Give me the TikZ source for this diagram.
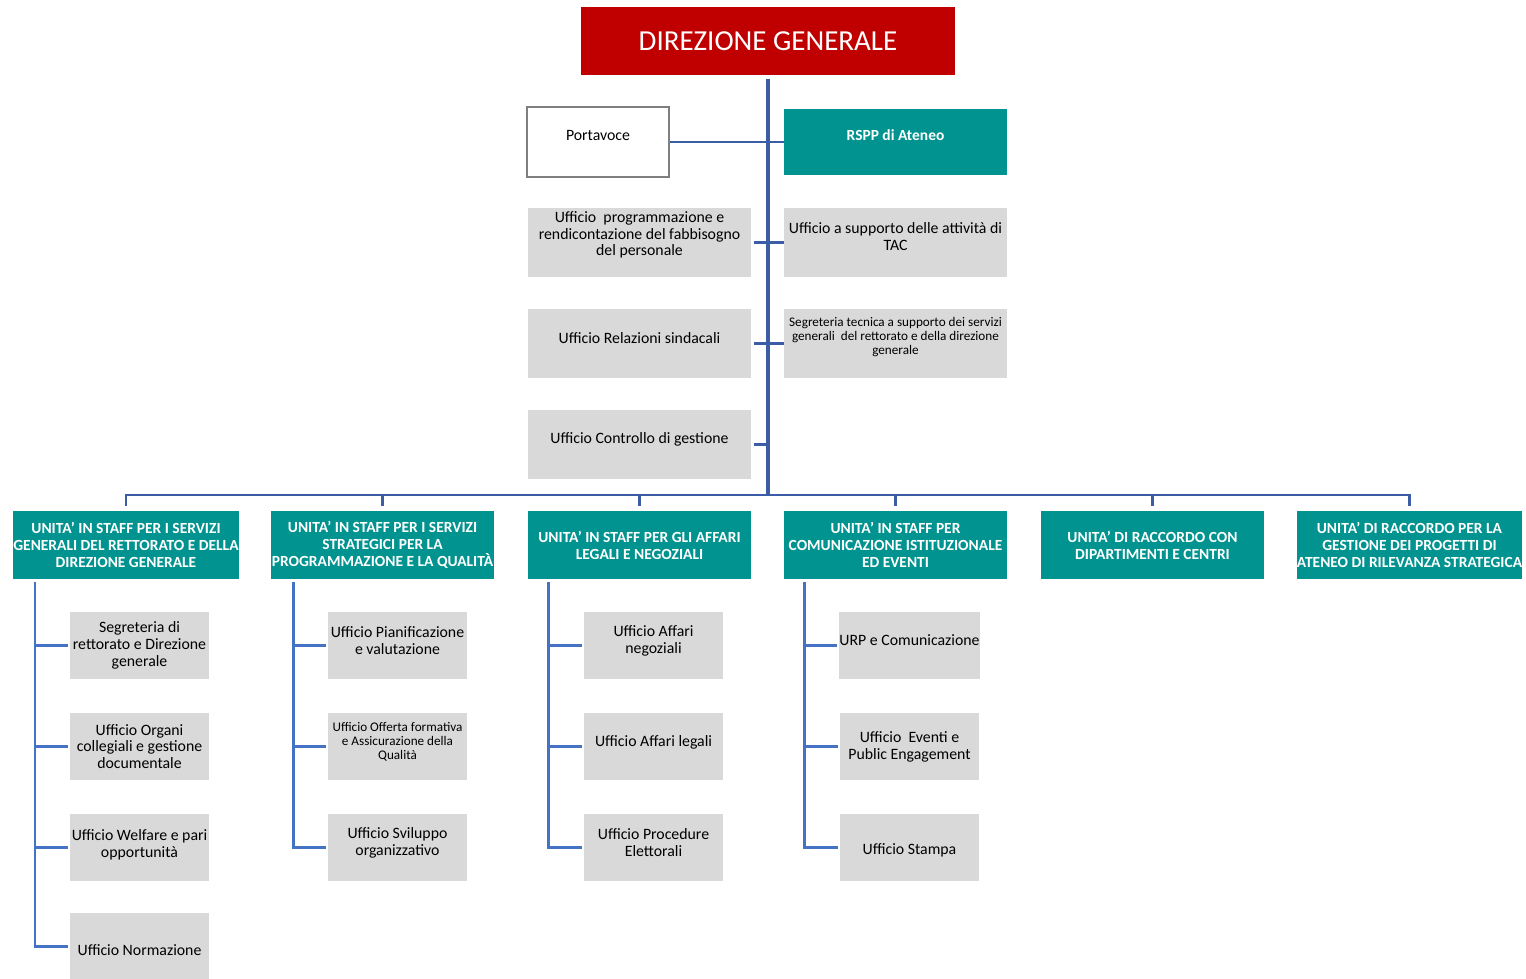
\documentclass[tikz,border=0pt]{standalone}
\usepackage{fontspec}
\setmainfont{Carlito}
\usetikzlibrary{positioning}

\definecolor{dgred}{HTML}{C00000}
\definecolor{unitteal}{HTML}{00938F}
\definecolor{officegray}{HTML}{D9D9D9}
\definecolor{framegray}{HTML}{7F7F7F}
\definecolor{trunkblue}{HTML}{3A5DA6}
\definecolor{linkblue}{HTML}{4472C4}

\begin{document}
\begin{tikzpicture}
		[x=0.02cm, y=-0.02cm,
		 head/.style={fill=dgred, text=white, minimum width=7.48cm, minimum height=1.36cm, inner sep=0pt, font=\fontsize{16.5}{19}\selectfont},
		 unit/.style={fill=unitteal, text=white, align=center, minimum width=4.48cm, minimum height=1.36cm, inner sep=0pt, font=\bfseries\fontsize{8.8}{9.6}\selectfont},
		 office/.style={fill=officegray, align=center, minimum width=4.46cm, minimum height=1.38cm, inner sep=0pt, font=\fontsize{9}{9.6}\selectfont},
		 suboffice/.style={fill=officegray, align=center, minimum width=2.78cm, minimum height=1.36cm, inner sep=0pt, font=\fontsize{9}{9.6}\selectfont},
		 smalltext/.style={font=\fontsize{7.5}{7.9}\selectfont},
		 lifted/.style={text depth=#1},
		 trunk/.style={draw=trunkblue, line width=2.3pt},
		 bus/.style={draw=trunkblue, line width=1.6pt},
		 stub/.style={draw=trunkblue, line width=1.4pt},
		 link/.style={draw=linkblue, line width=1.6pt}]
		\useasboundingbox (0,0) rectangle (1526,979);
		% vertice
		\node[head] (dg) at (768,41) {DIREZIONE GENERALE};
		\node[draw=framegray, line width=1.2pt, minimum width=2.84cm, minimum height=1.4cm, inner sep=0pt, font=\fontsize{9}{9.6}\selectfont, lifted=8pt] (portavoce) at (598,142) {Portavoce};
		\node[unit, minimum width=4.46cm, minimum height=1.32cm, lifted=8pt] (rspp) at (895.5,142) {RSPP di Ateneo};
		\node[office, lifted=10.2pt] (fabb) at (639.5,242.5) {Ufficio\ \ programmazione e\\rendicontazione del fabbisogno\\del personale};
		\node[office, lifted=6.8pt] (tac) at (895.5,242.5) {Ufficio a supporto delle attività di\\TAC};
		\node[office, lifted=6.8pt] (sind) at (639.5,343.5) {Ufficio Relazioni sindacali};
		\node[office, smalltext, lifted=8.7pt] (segtec) at (895.5,343.5) {Segreteria tecnica a supporto dei servizi\\generali\ \ del rettorato e della direzione\\generale};
		\node[office, lifted=7.9pt] (ctrl) at (639.5,444.5) {Ufficio Controllo di gestione};
		% unita' in staff
		\node[unit] (servgen) at (126,545) {UNITA’ IN STAFF PER I SERVIZI\\GENERALI DEL RETTORATO E DELLA\\DIREZIONE GENERALE};
		\node[unit] (strat) at (382.5,545) {UNITA’ IN STAFF PER I SERVIZI\\STRATEGICI PER LA\\PROGRAMMAZIONE E LA QUALITÀ};
		\node[unit] (legali) at (639.5,545) {UNITA’ IN STAFF PER GLI AFFARI\\LEGALI E NEGOZIALI};
		\node[unit] (comun) at (895.5,545) {UNITA’ IN STAFF PER\\COMUNICAZIONE ISTITUZIONALE\\ED EVENTI};
		\node[unit] (dip) at (1152.5,545) {UNITA’ DI RACCORDO CON\\DIPARTIMENTI E CENTRI};
		\node[unit] (prog) at (1409.5,545) {UNITA’ DI RACCORDO PER LA\\GESTIONE DEI PROGETTI DI\\ATENEO DI RILEVANZA STRATEGICA};
		% uffici
		\node[suboffice] (segr) at (139.5,645.5) {Segreteria di\\rettorato e Direzione\\generale};
		\node[suboffice] (organi) at (139.5,746.5) {Ufficio Organi\\collegiali e gestione\\documentale};
		\node[suboffice, lifted=4.5pt] (welfare) at (139.5,847.5) {Ufficio Welfare e pari\\opportunità};
		\node[suboffice, text height=10.5pt, text depth=0pt] (norm) at (139.5,946.5) {Ufficio Normazione};
		\node[suboffice, lifted=5.7pt] (pian) at (397.5,645.5) {Ufficio Pianificazione\\e valutazione};
		\node[suboffice, smalltext, lifted=6.7pt] (offerta) at (397.5,746.5) {Ufficio Offerta formativa\\e Assicurazione della\\Qualità};
		\node[suboffice, lifted=6.7pt] (svil) at (397.5,847.5) {Ufficio Sviluppo\\organizzativo};
		\node[suboffice, lifted=6.7pt] (neg) at (653.5,645.5) {Ufficio Affari\\negoziali};
		\node[suboffice, lifted=6.7pt] (leg) at (653.5,746.5) {Ufficio Affari legali};
		\node[suboffice, lifted=5.7pt] (proc) at (653.5,847.5) {Ufficio Procedure\\Elettorali};
		\node[suboffice, lifted=5.7pt] (urp) at (909.5,645.5) {URP e Comunicazione};
		\node[suboffice] (eventi) at (909.5,746.5) {Ufficio\ \ Eventi e\\Public Engagement};
		\node[suboffice, text height=10.5pt, text depth=3pt] (stampa) at (909.5,847.5) {Ufficio Stampa};
		% linee
		\coordinate (bus) at (768,495);
		\draw[trunk] ([yshift=-2pt]dg.south) -- (bus);
		\draw[stub] (portavoce.east) -- (rspp.west);
		\draw[stub, shorten <=1.7pt] (fabb.east) -- (tac.west);
		\draw[stub, shorten <=1.7pt] (sind.east) -- (segtec.west);
		\draw[stub, shorten <=1.7pt] (ctrl.east) -- (ctrl.east -| bus);
		\draw[bus] ([yshift=2.8pt]servgen.north) -- (servgen.north |- bus) -- (prog.north |- bus) -- ([yshift=2.8pt]prog.north);
		\draw[bus] (strat.north |- bus) -- ([yshift=2.8pt]strat.north);
		\draw[bus] (legali.north |- bus) -- ([yshift=2.8pt]legali.north);
		\draw[bus] (comun.north |- bus) -- ([yshift=2.8pt]comun.north);
		\draw[bus] (dip.north |- bus) -- ([yshift=2.8pt]dip.north);
		\draw[link, shorten >=1.1pt] ([xshift=0.44cm,yshift=-1.7pt]servgen.south west) coordinate (b1) |- (norm.west);
		\draw[link, shorten >=1.1pt] (b1 |- segr.west) -- (segr.west);
		\draw[link, shorten >=1.1pt] (b1 |- organi.west) -- (organi.west);
		\draw[link, shorten >=1.1pt] (b1 |- welfare.west) -- (welfare.west);
		\draw[link, shorten >=1.1pt] ([xshift=0.46cm,yshift=-1.7pt]strat.south west) coordinate (b2) |- (svil.west);
		\draw[link, shorten >=1.1pt] (b2 |- pian.west) -- (pian.west);
		\draw[link, shorten >=1.1pt] (b2 |- offerta.west) -- (offerta.west);
		\draw[link, shorten >=1.1pt] ([xshift=0.42cm,yshift=-1.7pt]legali.south west) coordinate (b3) |- (proc.west);
		\draw[link, shorten >=1.1pt] (b3 |- neg.west) -- (neg.west);
		\draw[link, shorten >=1.1pt] (b3 |- leg.west) -- (leg.west);
		\draw[link, shorten >=1.1pt] ([xshift=0.42cm,yshift=-1.7pt]comun.south west) coordinate (b4) |- (stampa.west);
		\draw[link, shorten >=1.1pt] (b4 |- urp.west) -- (urp.west);
		\draw[link, shorten >=1.1pt] (b4 |- eventi.west) -- (eventi.west);
	\end{tikzpicture}
\end{document}
